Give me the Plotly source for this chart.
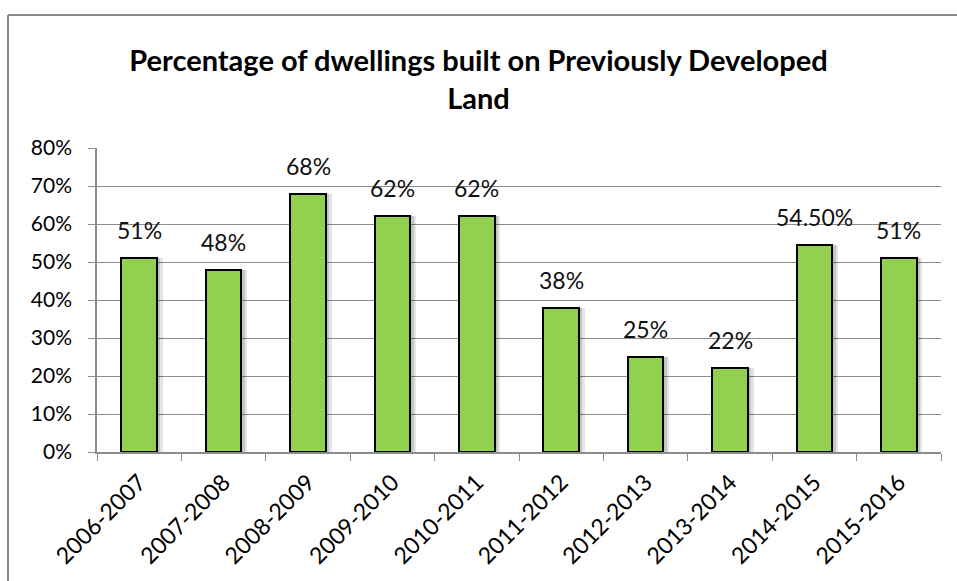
import plotly.graph_objects as go

# ── Data ──────────────────────────────────────────────────────────────────────
YEARS = ['2006-2007', '2007-2008', '2008-2009', '2009-2010', '2010-2011',
         '2011-2012', '2012-2013', '2013-2014', '2014-2015', '2015-2016']
SHARE = [0.51, 0.48, 0.68, 0.62, 0.62, 0.38, 0.25, 0.22, 0.545, 0.51]
LABELS = ['51%', '48%', '68%', '62%', '62%', '38%', '25%', '22%', '54.50%', '51%']

FONT = 'Lato'
BAR_GREEN = '#92D050'
GRID = '#8c8c8c'

W, H = 957, 581
L, R, T, B = 97, 16, 148, 129

fig = go.Figure()

# soft shadow to the right of each bar
for shift, alpha in [(0.07, 0.10), (0.04, 0.14)]:
    fig.add_trace(go.Bar(
        x=YEARS, y=SHARE, width=0.42, offset=-0.21 + shift,
        marker=dict(color=f'rgba(0,0,0,{alpha})', line=dict(width=0)),
        hoverinfo='skip', showlegend=False,
    ))

fig.add_trace(go.Bar(
    x=YEARS, y=SHARE, width=0.42, offset=-0.21,
    marker=dict(color=BAR_GREEN, line=dict(color='black', width=2)),
    showlegend=False,
))

for yr, val, lab in zip(YEARS, SHARE, LABELS):
    fig.add_annotation(x=yr, y=val, text=lab, showarrow=False,
                       yanchor='bottom', yshift=12,
                       font=dict(family=FONT, size=23, color='#111'))

# outer chart frame (top and left edges only are visible)
pw, ph = W - L - R, H - T - B
x0 = (8 - L) / pw
x1 = (W - L) / pw
y_top = (H - B - 15) / ph
y_bot = (H - B - H) / ph
fig.add_shape(type='line', xref='paper', yref='paper', x0=x0, x1=x1,
              y0=y_top, y1=y_top, line=dict(color='#8a8a8a', width=2))
fig.add_shape(type='line', xref='paper', yref='paper', x0=x0, x1=x0,
              y0=y_top, y1=y_bot, line=dict(color='#8a8a8a', width=2))

fig.update_layout(
    width=W, height=H,
    margin=dict(l=L, r=R, t=T, b=B),
    paper_bgcolor='white', plot_bgcolor='white',
    barmode='overlay', bargap=0,
    font=dict(family=FONT, size=21, color='black'),
    title=dict(
        text='<b>Percentage of dwellings built on Previously Developed<br>Land</b>',
        x=0.5, xanchor='center', xref='container',
        y=1 - 71 / H, yanchor='middle', yref='container',
        font=dict(family=FONT, size=29, color='black'),
    ),
)

fig.update_xaxes(
    type='category', tickangle=-45, tickson='boundaries',
    ticks='outside', ticklen=7, tickcolor=GRID, tickwidth=1,
    showline=True, linecolor=GRID, linewidth=1.5,
    showgrid=False, ticklabelstandoff=6, automargin=False,
    tickfont=dict(family=FONT, size=23),
)
fig.update_yaxes(
    range=[0, 0.8], dtick=0.1, tickformat='.0%',
    ticks='outside', ticklen=7, tickcolor=GRID,
    showline=True, linecolor=GRID, linewidth=1.5,
    showgrid=True, gridcolor=GRID, gridwidth=1,
    zeroline=False, automargin=False, ticklabelstandoff=12,
    tickfont=dict(family=FONT, size=21),
)

fig.write_html('out.html', config={'displayModeBar': False},
               post_script="document.body.style.margin='0';")
